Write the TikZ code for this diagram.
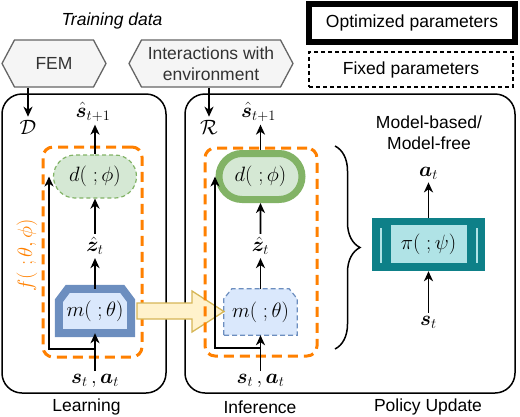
\documentclass[tikz,border=0pt]{standalone}
\usepackage{amsmath}
\usepackage{bm}
\usepackage{fontspec}
\setmainfont{Liberation Sans}
\usetikzlibrary{positioning}
\usetikzlibrary{calc}
\usetikzlibrary{backgrounds}
\usetikzlibrary{arrows.meta}
\usetikzlibrary{shapes.misc,shapes.symbols}
\usetikzlibrary{decorations.pathreplacing}
\definecolor{srcfill}{HTML}{F5F5F5}
\definecolor{srcdraw}{HTML}{666666}
\definecolor{combo}{HTML}{FF8000}
\definecolor{decfill}{HTML}{D5E8D4}
\definecolor{decdraw}{HTML}{82B366}
\definecolor{encfill}{HTML}{DAE8FC}
\definecolor{encdraw}{HTML}{6C8EBF}
\definecolor{xferfill}{HTML}{FFF2CC}
\definecolor{xferdraw}{HTML}{D6B656}
\definecolor{poldraw}{HTML}{0E8088}
\definecolor{polfill}{HTML}{B0E3E6}
\tikzset{
  txt/.style={font=\fontsize{17.5}{21}\selectfont},
  sym/.style={font=\fontsize{20}{24}\selectfont,inner sep=3pt},
  flow/.style={-{Stealth[length=10pt,width=9pt,inset=3pt]},line width=1.8pt},
  source/.style={signal,signal to=west and east,signal pointer angle=124,
    draw=srcdraw,fill=srcfill,line width=1.3pt,text=black!80,
    minimum height=47pt,txt},
  stage/.style={rectangle,draw,line width=1.5pt,rounded corners=20pt},
  wrap/.style={rectangle,draw=combo,line width=3pt,rounded corners=10pt,
    dash pattern=on 10pt off 6pt},
  decoder/.style={rounded rectangle,fill=decfill,draw=decdraw,sym,
    minimum width=89pt},
  encoder/.style={rectangle,sym},
  encoder outline/.style={fill=encfill,draw=encdraw,line join=miter},
  policy/.style={rectangle,fill=poldraw,sym,minimum width=113pt,minimum height=53pt,
    path picture={
      \fill[polfill] ([xshift=19pt,yshift=-7pt]path picture bounding box.north west)
        rectangle ([xshift=-18pt,yshift=8pt]path picture bounding box.south east);
      \draw[polfill,line width=1.5pt]
        ([xshift=9pt,yshift=-10pt]path picture bounding box.north west)
        -- ([xshift=9pt,yshift=8pt]path picture bounding box.south west);
      \draw[polfill,line width=1.5pt]
        ([xshift=-8pt,yshift=-10pt]path picture bounding box.north east)
        -- ([xshift=-8pt,yshift=8pt]path picture bounding box.south east);}},
  transfer/.style={fill=xferfill,draw=xferdraw,line width=1.3pt,line join=miter}
}
\begin{document}
\begin{tikzpicture}[x=1pt,y=-1pt,every node/.append style={txt}]
  \useasboundingbox (0,0) rectangle (520,416);
  % training data and legend
  \node (title) at (112,21) {\itshape Training data};
  \node (fem) [source,minimum width=104pt] at (54,63.5) {FEM};
  \node (env) [source,minimum width=164pt,align=center] at (211,63.5)
    {Interactions with\\environment};
  \node (opt) [draw,line width=6pt,minimum width=206pt,minimum height=38pt] at (412,23)
    {Optimized parameters};
  \node (fixed) [draw,line width=1.3pt,dash pattern=on 4pt off 3pt,minimum width=204pt,
    minimum height=35pt] at (411,69.5) {Fixed parameters};
  % stages
  \node (learn) [stage,minimum width=164pt,minimum height=299pt] at (84,243.5) {};
  \node (infer) [stage,minimum width=330pt,minimum height=299pt] at (350,243.5) {};
  \node (learnlbl) at (86.5,407) {Learning};
  \node (inferlbl) at (260,407) {Inference};
  \node (pollbl) at (428,407) {Policy Update};
  % learning
  \node (f1) [wrap,minimum width=99pt,minimum height=210pt] at (92.5,252) {};
  \node (f1lbl) [sym,rotate=90,text=combo] at (27,255) {$f(\;;\theta,\phi)$};
  \node (d1) [decoder,minimum height=43pt,line width=1.2pt,dash pattern=on 4pt off 3pt]
    at (95,176.5) {$d(\;;\phi)$};
  \node (out1) [sym] at (93,112) {$\hat{\bm s}_{t+1}$};
  \node (data1) [sym] at (28,127) {$\mathcal{D}$};
  \node (z1) [sym] at (95,246) {$\hat{\bm z}_t$};
  \node (m1) [encoder,minimum width=72pt,minimum height=44pt] at (95,311) {$m(\;;\theta)$};
  \begin{scope}[on background layer]
    \draw[encoder outline,line width=8pt] (m1.south west) -- ($(m1.north west)+(0,12)$)
      -- ($(m1.north west)+(9,0)$) -- ($(m1.north east)+(-9,0)$)
      -- ($(m1.north east)+(0,12)$) -- (m1.south east) -- cycle;
  \end{scope}
  \node (in1) [sym] at (95,381) {$\bm s_t\,,\bm a_t$};
  \coordinate (b1) at (49,349);
  \draw[flow] (fem.south -| data1) -- (data1.north);
  \draw[flow] (d1.north) -- (d1.north |- out1.south);
  \draw[flow] (z1) -- (d1);
  \draw[flow] (m1) -- (z1);
  \draw[flow] (in1) -- (m1);
  \draw[flow] (in1.north |- b1) -- (b1) -- (b1 |- d1.west);
  % transfer of the encoder
  \draw[transfer] (137,303) -- (192,303) -- (192,291) -- (224,311.5) -- (192,332)
    -- (192,319) -- (137,319) -- cycle;
  % inference
  \node (f2) [wrap,minimum width=112pt,minimum height=208pt] at (261,252) {};
  \node (d2) [decoder,minimum height=46pt,line width=7pt] at (260.5,176.5) {$d(\;;\phi)$};
  \node (out2) [sym] at (258.5,112) {$\hat{\bm s}_{t+1}$};
  \node (data2) [sym] at (209,127) {$\mathcal{R}$};
  \node (z2) [sym] at (260.5,246) {$\hat{\bm z}_t$};
  \node (m2) [encoder,minimum width=73pt,minimum height=46pt] at (260.5,312) {$m(\;;\theta)$};
  \begin{scope}[on background layer]
    \draw[encoder outline,line width=1.2pt,dash pattern=on 5pt off 3pt] (m2.south west)
      -- ($(m2.north west)+(0,10)$) -- ($(m2.north west)+(8,0)$)
      -- ($(m2.north east)+(-8,0)$) -- ($(m2.north east)+(0,10)$)
      -- (m2.south east) -- cycle;
  \end{scope}
  \node (in2) [sym] at (260.5,381) {$\bm s_t\,,\bm a_t$};
  \coordinate (b2) at (215,348);
  \draw[flow] (env.south -| data2) -- (data2.north);
  \draw[flow] (d2.north) -- (d2.north |- out2.south);
  \draw[flow] (z2) -- (d2);
  \draw[flow] (m2) -- (z2);
  \draw[flow] (in2) -- (m2);
  \draw[flow] (in2.north |- b2) -- (b2) -- (b2 |- d2.west);
  \draw[decorate,decoration={brace,amplitude=25pt},line width=1.5pt] (335,146) -- (335,349);
  % policy update
  \node (kind) [align=center] at (429,133) {Model-based/\\Model-free};
  \node (act) [sym] at (428.5,173) {$\bm a_t$};
  \node (pi) [policy] at (428.5,244.5) {$\pi(\;;\psi)$};
  \node (state) [sym] at (428.5,322) {$\bm s_t$};
  \draw[flow] (state) -- (pi);
  \draw[flow] (pi) -- (act);
\end{tikzpicture}
\end{document}
